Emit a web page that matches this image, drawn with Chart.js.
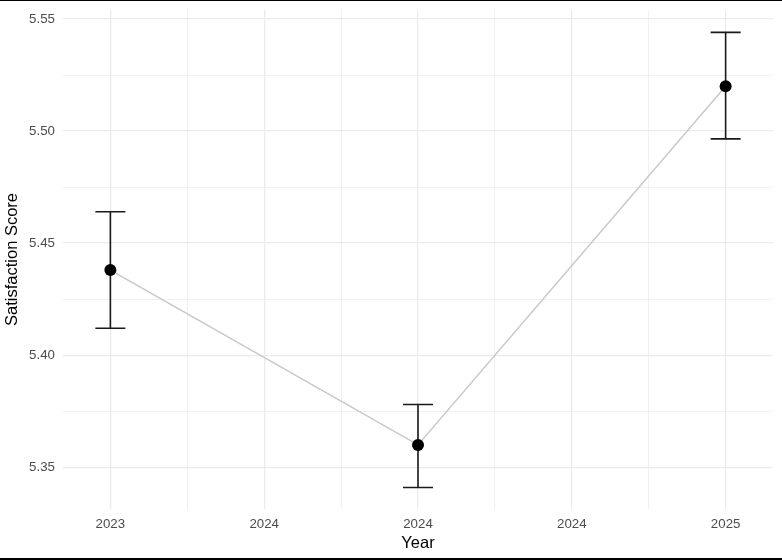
<!DOCTYPE html>
<html>
<head>
<meta charset="utf-8">
<script src="https://cdn.jsdelivr.net/npm/chart.js@4/dist/chart.umd.min.js"></script>
<style>
  html, body { margin: 0; padding: 0; background: #fff; }
  #wrap { position: relative; width: 782px; height: 560px; }
  #topline { position: absolute; left: 0; top: 0; width: 782px; height: 1px; background: #000; }
  #botline { position: absolute; left: 0; top: 558px; width: 782px; height: 2px; background: #000; }
</style>
</head>
<body>
<div id="wrap">
  <canvas id="c" width="782" height="560"></canvas>
  <div id="topline"></div>
  <div id="botline"></div>
</div>
<script>
// ---- data ----
const years = [2023, 2024, 2025];
const means = [5.438, 5.360, 5.520];
const lower = [5.412, 5.341, 5.4965];
const upper = [5.464, 5.378, 5.544];

const xTickValues = [2023, 2023.5, 2024, 2024.5, 2025];
const xTickLabels = ["2023", "2024", "2024", "2024", "2025"];
const xMinorValues = [2023.25, 2023.75, 2024.25, 2024.75];

const yTickValues = [5.35, 5.40, 5.45, 5.50, 5.55];
const yTickLabels = ["5.35", "5.40", "5.45", "5.50", "5.55"];
const yMinorValues = [5.375, 5.425, 5.475, 5.525];

const xRange = [2022.846, 2025.154];
const yRange = [5.3314, 5.554];

const FONT = "'Liberation Sans', Arial, Helvetica, sans-serif";

function buildTicks(majors, minors) {
  const all = majors.map(v => ({ value: v, major: true }))
    .concat(minors.map(v => ({ value: v, major: false })));
  all.sort((a, b) => a.value - b.value);
  return all;
}
function labelFor(values, labels, v) {
  for (let i = 0; i < values.length; i++) {
    if (Math.abs(values[i] - v) < 1e-6) return labels[i];
  }
  return "";
}

const errorBarPlugin = {
  id: 'errorBars',
  afterDatasetDraw(chart, args) {
    if (args.index !== 0) return;
    const ctx = chart.ctx;
    const xs = chart.scales.x, ys = chart.scales.y;
    ctx.save();
    ctx.strokeStyle = '#1a1a1a';
    ctx.lineWidth = 1.6;
    const half = 15;
    for (let i = 0; i < years.length; i++) {
      const px = xs.getPixelForValue(years[i]);
      const pTop = ys.getPixelForValue(upper[i]);
      const pBot = ys.getPixelForValue(lower[i]);
      ctx.beginPath();
      ctx.moveTo(px, pTop); ctx.lineTo(px, pBot);
      ctx.moveTo(px - half, pTop); ctx.lineTo(px + half, pTop);
      ctx.moveTo(px - half, pBot); ctx.lineTo(px + half, pBot);
      ctx.stroke();
    }
    ctx.restore();
  }
};

const gridColor = '#ebebeb';

new Chart(document.getElementById('c'), {
  type: 'scatter',
  data: {
    datasets: [
      {
        data: years.map((y, i) => ({ x: y, y: means[i] })),
        showLine: true,
        borderColor: '#c8c8c8',
        borderWidth: 1.5,
        pointRadius: 0,
        fill: false,
        order: 2
      },
      {
        data: years.map((y, i) => ({ x: y, y: means[i] })),
        showLine: false,
        pointRadius: 6,
        pointBackgroundColor: '#000',
        pointBorderColor: '#000',
        pointBorderWidth: 0,
        order: 1
      }
    ]
  },
  plugins: [errorBarPlugin],
  options: {
    responsive: false,
    animation: false,
    events: [],
    layout: { padding: { left: 0, right: 9, top: 10, bottom: 0 } },
    plugins: { legend: { display: false }, tooltip: { enabled: false } },
    scales: {
      x: {
        type: 'linear',
        min: xRange[0],
        max: xRange[1],
        afterBuildTicks(scale) { scale.ticks = buildTicks(xTickValues, xMinorValues); },
        afterFit(scale) { scale.height = 51; scale.paddingLeft = 0; scale.paddingRight = 0; },
        ticks: {
          autoSkip: false,
          maxRotation: 0,
          padding: 7,
          color: '#4d4d4d',
          font: { family: FONT, size: 13.3 },
          callback: (v) => labelFor(xTickValues, xTickLabels, v)
        },
        grid: {
          drawTicks: false,
          color: gridColor,
          lineWidth: (c) => (c.tick && c.tick.major ? 1.3 : 0.7)
        },
        border: { display: false },
        title: {
          display: true,
          text: 'Year',
          color: '#000',
          font: { family: FONT, size: 16.5 },
          padding: { top: 0, bottom: 7 }
        }
      },
      y: {
        type: 'linear',
        min: yRange[0],
        max: yRange[1],
        afterBuildTicks(scale) { scale.ticks = buildTicks(yTickValues, yMinorValues); },
        afterFit(scale) { scale.width = 63; scale.paddingTop = 0; scale.paddingBottom = 0; },
        ticks: {
          autoSkip: false,
          padding: 8,
          color: '#4d4d4d',
          font: { family: FONT, size: 13.3 },
          callback: (v) => labelFor(yTickValues, yTickLabels, v)
        },
        grid: {
          drawTicks: false,
          color: gridColor,
          lineWidth: (c) => (c.tick && c.tick.major ? 1.3 : 0.7)
        },
        border: { display: false },
        title: {
          display: true,
          text: 'Satisfaction Score',
          color: '#000',
          font: { family: FONT, size: 16.5 },
          padding: { top: 3, bottom: 0 }
        }
      }
    }
  }
});
</script>
</body>
</html>
